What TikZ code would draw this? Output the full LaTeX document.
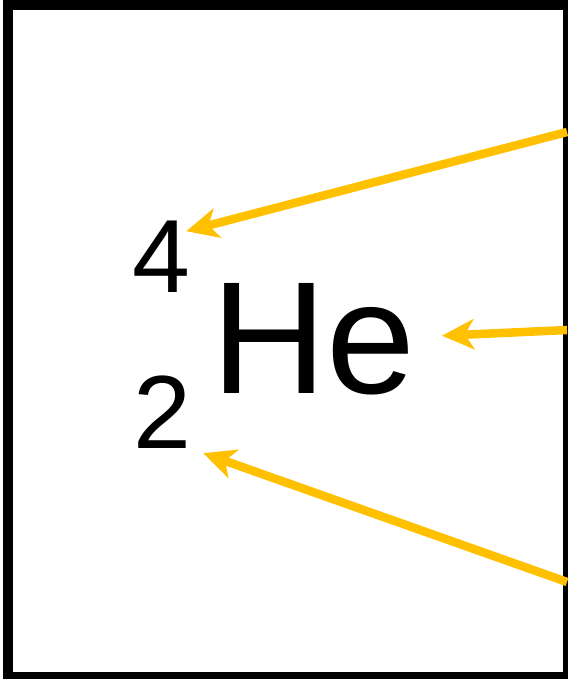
\documentclass[tikz,border=0pt]{standalone}
\usepackage{fontspec}
\setmainfont{Liberation Sans}
\usetikzlibrary{positioning,arrows.meta,calc}
\definecolor{gold}{HTML}{FFC000}

\begin{document}
\begin{tikzpicture}[>={Stealth[length=32pt,width=30pt,inset=9pt]},x=1pt,y=1pt]
\tikzstyle{frame}=[draw=black,line width=10pt]
\tikzstyle{sym}=[inner sep=0pt,anchor=base west,font=\fontsize{160}{166}\selectfont]
\tikzstyle{idx}=[inner sep=0pt,anchor=base west,font=\fontsize{104}{110}\selectfont]
\tikzstyle{ptr}=[->,draw=gold,line width=8.5pt]
\useasboundingbox (0,0) rectangle (567,679);
\draw[frame] (8,674) rectangle (568,2);
\node[idx] (mass) at (132,386) {4};
\node[sym] (he) at (211,285) {He};
\node[idx] (atomic) at (133,230) {2};
\coordinate (srcmass) at (567,547);
\coordinate (srche) at (567,349);
\coordinate (srcatomic) at (567,97);
\draw[ptr] (srcmass) -- ($(mass.north east)+(-4,-10)$);
\draw[ptr] (srche) -- ($(he.east)+(26,4)$);
\draw[ptr] (srcatomic) -- ($(atomic.south east)+(12,-4)$);
\end{tikzpicture}
\end{document}
